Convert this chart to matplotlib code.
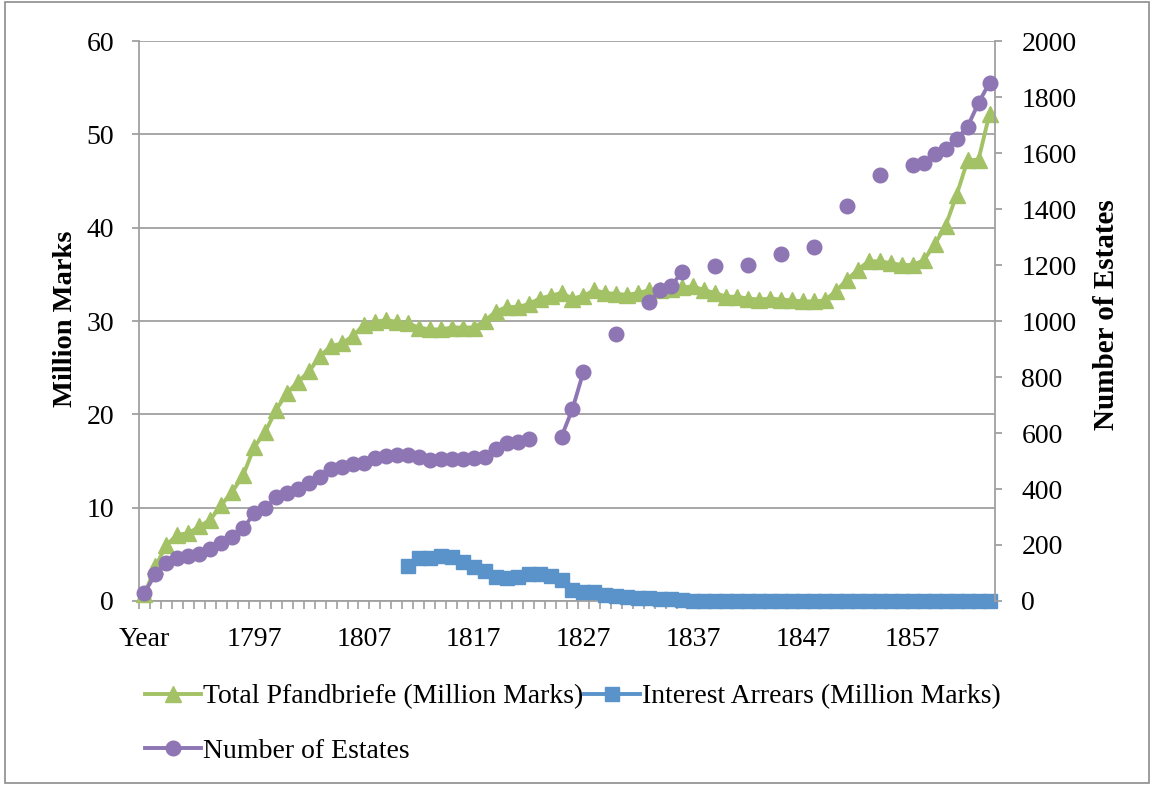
import numpy as np
import matplotlib
matplotlib.use("Agg")
import matplotlib.pyplot as plt
from matplotlib.patches import Rectangle

nan = np.nan

# ---------------- data ----------------
categories = ["Year"] + [str(y) for y in range(1788, 1865)]

pfandbriefe = [0.7, 3.7, 6.0, 7.1, 7.25, 8.0, 8.7, 10.3, 11.7, 13.5,
               16.5, 18.1, 20.5, 22.3, 23.5, 24.6, 26.25, 27.3, 27.6, 28.4,
               29.6, 29.9, 30.1, 29.9, 29.75, 29.3, 29.1, 29.1, 29.3, 29.3,
               29.3, 30.0, 31.0, 31.5, 31.5, 31.8, 32.4, 32.7, 33.0, 32.4,
               32.7, 33.3, 33.0, 32.9, 32.8, 33.0, 33.3, 33.3, 33.4, 33.6,
               33.7, 33.3, 33.0, 32.6, 32.6, 32.4, 32.3, 32.4, 32.3, 32.2,
               32.1, 32.1, 32.2, 33.2, 34.4, 35.5, 36.4, 36.4, 36.2, 36.0,
               36.0, 36.5, 38.2, 40.2, 43.5, 47.2, 47.3, 52.2]

arrears = [nan, nan, nan, nan, nan, nan, nan, nan, nan, nan,
           nan, nan, nan, nan, nan, nan, nan, nan, nan, nan,
           nan, nan, nan, nan, 3.8, 4.6, 4.6, 4.8, 4.7, 4.2,
           3.6, 3.2, 2.55, 2.45, 2.55, 2.9, 2.9, 2.7, 2.2, 1.15,
           0.95, 0.95, 0.65, 0.5, 0.4, 0.32, 0.3, 0.2, 0.2, 0.15,
           0, 0, 0, 0, 0, 0, 0, 0, 0, 0,
           0, 0, 0, 0, 0, 0, 0, 0, 0, 0,
           0, 0, 0, 0, 0, 0, 0, 0]

estates = [30, 96, 135, 155, 161, 168, 185, 206, 227, 260,
           313, 331, 370, 387, 399, 423, 444, 470, 480, 488,
           492, 510, 518, 521, 523, 515, 505, 506, 506, 506,
           510, 515, 542, 563, 569, 577, nan, nan, 587, 686,
           819, nan, nan, 955, nan, nan, 1067, 1111, 1125, 1176,
           nan, nan, 1198, nan, nan, 1200, nan, nan, 1239, nan,
           nan, 1264, nan, nan, 1411, nan, nan, 1521, nan, nan,
           1557, 1563, 1596, 1614, 1650, 1694, 1779, 1851]

label_every = 10
left_ticks = [0, 10, 20, 30, 40, 50, 60]
right_ticks = [0, 200, 400, 600, 800, 1000, 1200, 1400, 1600, 1800, 2000]

# ---------------- style ----------------
plt.rcParams['font.family'] = ['Liberation Serif', 'DejaVu Serif']
green = '#A3C266'
blue = '#5A93CA'
purple = '#8E75B3'
gray = '#A0A0A0'
W, H = 1153, 785

fig = plt.figure(figsize=(W / 100, H / 100), dpi=100)
ax = fig.add_axes([139 / W, 1 - 601 / H, (995 - 139) / W, (601 - 41) / H])
ax2 = ax.twinx()

x = np.arange(len(categories))
l1, = ax.plot(x, pfandbriefe, color=green, lw=2.8, marker='^', ms=11,
              mec=green, zorder=3, clip_on=False,
              label='Total Pfandbriefe (Million Marks)')
l2, = ax.plot(x, arrears, color=blue, lw=2.8, marker='s', ms=10.5,
              mec=blue, zorder=3, clip_on=False,
              label='Interest Arrears (Million Marks)')
l3, = ax2.plot(x, estates, color=purple, lw=2.8, marker='o', ms=10.5,
               mec=purple, zorder=3, clip_on=False,
               label='Number of Estates')

ax.set_xlim(-0.5, len(categories) - 0.5)
ax.set_ylim(0, 60)
ax2.set_ylim(0, 2000)
ax.set_yticks(left_ticks)
ax2.set_yticks(right_ticks)

major = list(range(0, len(categories), label_every))
ax.set_xticks(major)
ax.set_xticklabels([categories[i] for i in major])
ax.set_xticks(np.arange(-0.5, len(categories), 1), minor=True)

ax.yaxis.grid(True, color=gray, lw=1.3)
ax.set_axisbelow(True)

for s in ['top', 'right']:
    ax.spines[s].set_visible(False)
for s in ['top', 'left', 'bottom']:
    ax2.spines[s].set_visible(False)
for sp in [ax.spines['left'], ax.spines['bottom'], ax2.spines['right']]:
    sp.set_color(gray)
    sp.set_linewidth(1.3)

fs = 20
ax.tick_params(axis='x', which='major', length=0, pad=19, labelsize=fs)
ax.tick_params(axis='x', which='minor', length=6, width=1.2, color=gray, direction='out')
ax.tick_params(axis='y', length=5, width=1.3, color=gray, pad=13, labelsize=fs)
ax2.tick_params(axis='y', length=5, width=1.3, color=gray, pad=14, labelsize=fs)

fig.text(65 / W, 1 - 319 / H, 'Million Marks', rotation=90, ha='center',
         va='center', fontsize=20.5, fontweight='bold')
fig.text(1106 / W, 1 - 315 / H, 'Number of Estates', rotation=90, ha='center',
         va='center', fontsize=21, fontweight='bold')

fig.legend(handles=[l1, l3, l2], ncol=2, loc='upper left',
           bbox_to_anchor=(145 / W, 1 - 684 / H), frameon=False,
           handlelength=2.0, handletextpad=0.08, columnspacing=0.05,
           labelspacing=1.05, borderaxespad=0, borderpad=0, fontsize=fs)

fig.patches.append(Rectangle((5 / W, 2 / H), (1149 - 5) / W, (783 - 2) / H,
                             transform=fig.transFigure, fill=False,
                             edgecolor='#8C8C8C', lw=1.2))

fig.savefig('out.png', dpi=100)
